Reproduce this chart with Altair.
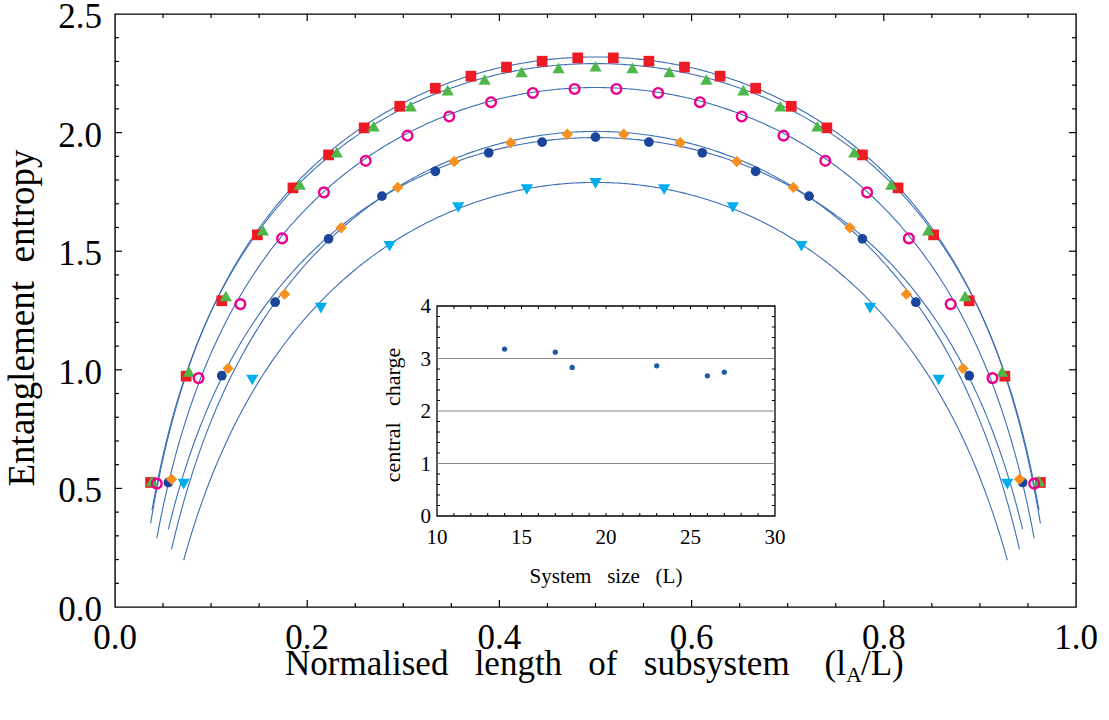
import altair as alt
import numpy as np
import pandas as pd

# ---- entanglement entropy S(l_A) for each chain length L, l_A = 1 .. L-1 ----
S_L27 = [0.525, 0.973, 1.291, 1.569, 1.767, 1.906, 2.020, 2.111, 2.187, 2.238, 2.276, 2.301, 2.315,
         2.315, 2.301, 2.276, 2.238, 2.187, 2.111, 2.020, 1.906, 1.767, 1.569, 1.291, 0.973, 0.525]
S_L26 = [0.531, 0.993, 1.311, 1.589, 1.781, 1.917, 2.027, 2.111, 2.179, 2.224, 2.256, 2.273, 2.280,
         2.273, 2.256, 2.224, 2.179, 2.111, 2.027, 1.917, 1.781, 1.589, 1.311, 0.993, 0.531]
S_L23 = [0.520, 0.965, 1.277, 1.554, 1.748, 1.881, 1.987, 2.068, 2.128, 2.167, 2.184,
         2.184, 2.167, 2.128, 2.068, 1.987, 1.881, 1.748, 1.554, 1.277, 0.965, 0.520]
S_L18 = [0.525, 0.975, 1.285, 1.552, 1.732, 1.837, 1.915, 1.960, 1.981,
         1.960, 1.915, 1.837, 1.732, 1.552, 1.285, 0.975, 0.525]
S_L17 = [0.539, 1.006, 1.319, 1.599, 1.769, 1.878, 1.957, 1.993,
         1.993, 1.957, 1.878, 1.769, 1.599, 1.319, 1.006, 0.539]
S_L14 = [0.518, 0.957, 1.260, 1.521, 1.684, 1.760, 1.786,
         1.760, 1.684, 1.521, 1.260, 0.957, 0.518]

# ---- CFT fit S = (c/3) ln[(L/pi) sin(pi l/L)] + const, one fit per L ----
system_size = [14, 17, 18, 23, 26, 27]
central_charge = [3.18, 3.12, 2.83, 2.86, 2.67, 2.74]
half_chain_fit = [1.790, 2.005, 1.979, 2.190, 2.291, 2.319]   # fitted S at l_A = L/2

# axis tick labels
x_tick_labels = [0.0, 0.2, 0.4, 0.6, 0.8, 1.0]
y_tick_labels = [0.0, 0.5, 1.0, 1.5, 2.0, 2.5]
inset_x_labels = [10, 15, 20, 25, 30]
inset_y_labels = [0, 1, 2, 3, 4]

entropy = {27: S_L27, 26: S_L26, 23: S_L23, 18: S_L18, 17: S_L17, 14: S_L14}

# marker per chain length: (shape, colour, filled, size)
marker = {
    27: ("square", "#ED1C24", True, 115),
    26: ("triangle-up", "#4DB848", True, 150),
    18: ("circle", "#1B459B", True, 95),
    17: ("diamond", "#F7901E", True, 130),
    23: ("circle", "#EC008C", False, 95),
    14: ("triangle-down", "#00AEEF", True, 150),
}
draw_order = [27, 26, 18, 17, 23, 14]

FONT = "Liberation Serif"
FIT_BLUE = "#3C6EB4"
W, H = 961, 593

pts = pd.DataFrame([
    {"L": L, "x": (i + 1) / L, "S": s}
    for L, vals in entropy.items() for i, s in enumerate(vals)
])

curve_rows = []
for L, c, s_half in zip(system_size, central_charge, half_chain_fit):
    xs = np.linspace(1 / L, 1 - 1 / L, 400)
    for xv, sv in zip(xs, s_half + c / 3 * np.log(np.sin(np.pi * xs))):
        curve_rows.append({"L": L, "x": xv, "S": sv})
curves_df = pd.DataFrame(curve_rows)

X = alt.Scale(domain=[0, 1], nice=False, zero=False)
Y = alt.Scale(domain=[0, 2.5], nice=False, zero=False)

fits = alt.Chart(curves_df).mark_line(color=FIT_BLUE, strokeWidth=1.1).encode(
    x=alt.X("x:Q", scale=X, axis=None),
    y=alt.Y("S:Q", scale=Y, axis=None),
    detail="L:N",
)

point_layers = []
for L in draw_order:
    shape, col, filled, size = marker[L]
    df = pts[pts.L == L]
    if filled:
        mk = alt.Chart(df).mark_point(shape=shape, filled=True, color=col, size=size,
                                      opacity=1, strokeWidth=0)
    else:
        mk = alt.Chart(df).mark_point(shape=shape, filled=False, color=col, size=size,
                                      opacity=1, strokeWidth=2.4)
    point_layers.append(mk.encode(x=alt.X("x:Q", scale=X, axis=None),
                                  y=alt.Y("S:Q", scale=Y, axis=None)))

# inward tick marks on all four sides of the main frame
x_minor = pd.DataFrame({"v": [0.05, 0.1, 0.15, 0.25, 0.3, 0.35, 0.45, 0.5, 0.55, 0.65, 0.7, 0.75,
                              0.85, 0.9, 0.95]})
x_major = pd.DataFrame({"v": [0.2, 0.4, 0.6, 0.8]})
y_minor = pd.DataFrame({"v": [0.1, 0.2, 0.3, 0.4, 0.6, 0.7, 0.8, 0.9, 1.1, 1.2, 1.3, 1.4, 1.6,
                              1.7, 1.8, 1.9, 2.1, 2.2, 2.3, 2.4]})
y_major = pd.DataFrame({"v": [0.5, 1.0, 1.5, 2.0]})

tick_layers = []
for df, ln in ((x_minor, 4), (x_major, 7)):
    for y0, y1 in ((H, H - ln), (0, ln)):
        tick_layers.append(alt.Chart(df).mark_rule(color="black", strokeWidth=1.2).encode(
            x=alt.X("v:Q", scale=X, axis=None), y=alt.value(y0), y2=alt.value(y1)))
for df, ln in ((y_minor, 4), (y_major, 7)):
    for x0, x1 in ((0, ln), (W, W - ln)):
        tick_layers.append(alt.Chart(df).mark_rule(color="black", strokeWidth=1.2).encode(
            y=alt.Y("v:Q", scale=Y, axis=None), x=alt.value(x0), x2=alt.value(x1)))

# tick labels, placed through the data scales
xl = pd.DataFrame({"v": x_tick_labels, "t": [f"{v:.1f}" for v in x_tick_labels]})
yl = pd.DataFrame({"v": y_tick_labels, "t": [f"{v:.1f}" for v in y_tick_labels]})
x_labels = alt.Chart(xl).mark_text(font=FONT, fontSize=35, align="center", baseline="alphabetic",
                                   color="black").encode(
    x=alt.X("v:Q", scale=X, axis=None), y=alt.value(H + 42), text="t:N")
y_labels = alt.Chart(yl).mark_text(font=FONT, fontSize=35, align="right", baseline="alphabetic",
                                   dy=14, color="black").encode(
    y=alt.Y("v:Q", scale=Y, axis=None), x=alt.value(-13), text="t:N")

one = pd.DataFrame({"k": [0]})
SP = "\u00a0\u00a0\u00a0"
x_title_main = alt.Chart(one).mark_text(
    text=f"Normalised{SP}length{SP}of{SP}subsystem{SP}\u00a0(l", font=FONT, fontSize=35,
    align="right", baseline="alphabetic", color="black"
).encode(x=alt.value(731), y=alt.value(661))
x_title_sub = alt.Chart(one).mark_text(
    text="A", font=FONT, fontSize=22, align="left", baseline="alphabetic", color="black"
).encode(x=alt.value(731), y=alt.value(668))
x_title_end = alt.Chart(one).mark_text(
    text="/L)", font=FONT, fontSize=35, align="left", baseline="alphabetic", color="black"
).encode(x=alt.value(746), y=alt.value(661))
y_title = alt.Chart(one).mark_text(
    text="Entanglement\u00a0\u00a0entropy", font=FONT, fontSize=37, angle=270,
    align="center", baseline="alphabetic", color="black"
).encode(x=alt.value(-81), y=alt.value(304))

main = alt.layer(fits, *point_layers, *tick_layers, x_labels, y_labels,
                 x_title_main, x_title_sub, x_title_end, y_title)

# ---- inset: central charge against system size ----
IX = alt.Scale(domain=[10, 30], range=[322, 660], nice=False, zero=False)
IY = alt.Scale(domain=[0, 4], range=[502, 292], nice=False, zero=False)

frame = pd.DataFrame({"x0": [10], "x1": [30], "y0": [0], "y1": [4]})
inset_box = alt.Chart(frame).mark_rect(fill="white", stroke="black", strokeWidth=1.3).encode(
    x=alt.X("x0:Q", scale=IX, axis=None), x2="x1:Q",
    y=alt.Y("y0:Q", scale=IY, axis=None), y2="y1:Q")

grid = pd.DataFrame({"v": [1, 2, 3], "a": [10, 10, 10], "b": [30, 30, 30]})
inset_grid = alt.Chart(grid).mark_rule(color="#8a8a8a", strokeWidth=1).encode(
    y=alt.Y("v:Q", scale=IY, axis=None), x=alt.X("a:Q", scale=IX, axis=None), x2="b:Q")

ix_ticks = pd.DataFrame({"v": list(range(11, 30)), "lo": 0, "hi": 4})
iy_ticks = pd.DataFrame({"v": [0.2, 0.4, 0.6, 0.8, 1.2, 1.4, 1.6, 1.8, 2.2, 2.4, 2.6, 2.8,
                               3.2, 3.4, 3.6, 3.8], "lo": 10, "hi": 30})
inset_ticks = [
    alt.Chart(ix_ticks).mark_rule(color="black", strokeWidth=1, y2Offset=-3).encode(
        x=alt.X("v:Q", scale=IX, axis=None), y=alt.Y("lo:Q", scale=IY, axis=None), y2="lo:Q"),
    alt.Chart(ix_ticks).mark_rule(color="black", strokeWidth=1, y2Offset=3).encode(
        x=alt.X("v:Q", scale=IX, axis=None), y=alt.Y("hi:Q", scale=IY, axis=None), y2="hi:Q"),
    alt.Chart(iy_ticks).mark_rule(color="black", strokeWidth=1, x2Offset=3).encode(
        y=alt.Y("v:Q", scale=IY, axis=None), x=alt.X("lo:Q", scale=IX, axis=None), x2="lo:Q"),
    alt.Chart(iy_ticks).mark_rule(color="black", strokeWidth=1, x2Offset=-3).encode(
        y=alt.Y("v:Q", scale=IY, axis=None), x=alt.X("hi:Q", scale=IX, axis=None), x2="hi:Q"),
]

cc = pd.DataFrame({"L": system_size, "c": central_charge})
inset_pts = alt.Chart(cc).mark_circle(size=28, color="#1F5AAA", opacity=1).encode(
    x=alt.X("L:Q", scale=IX, axis=None), y=alt.Y("c:Q", scale=IY, axis=None))

ix_lab = pd.DataFrame({"v": inset_x_labels, "at": 0})
iy_lab = pd.DataFrame({"v": inset_y_labels, "at": 10})
inset_xlab = alt.Chart(ix_lab).mark_text(font=FONT, fontSize=21, align="center",
                                         baseline="alphabetic", dy=28, color="black").encode(
    x=alt.X("v:Q", scale=IX, axis=None), y=alt.Y("at:Q", scale=IY, axis=None), text="v:N")
inset_ylab = alt.Chart(iy_lab).mark_text(font=FONT, fontSize=21, align="right",
                                         baseline="alphabetic", dx=-6, dy=7, color="black").encode(
    x=alt.X("at:Q", scale=IX, axis=None), y=alt.Y("v:Q", scale=IY, axis=None), text="v:N")

inset_xtitle = alt.Chart(one).mark_text(
    text=f"System{SP}size{SP}(L)", font=FONT, fontSize=21, align="center",
    baseline="alphabetic", color="black").encode(x=alt.value(491), y=alt.value(569))
inset_ytitle = alt.Chart(one).mark_text(
    text=f"central{SP}charge", font=FONT, fontSize=22, angle=270, align="center",
    baseline="alphabetic", color="black").encode(x=alt.value(285), y=alt.value(401))

inset = alt.layer(inset_box, inset_grid, *inset_ticks, inset_pts, inset_xlab, inset_ylab,
                  inset_xtitle, inset_ytitle)

chart = alt.layer(main, inset).resolve_scale(x="independent", y="independent").properties(
    width=W, height=H,
    padding={"left": 115, "top": 14, "right": 33, "bottom": 113},
    autosize=alt.AutoSizeParams(type="none"),
    background="white",
).configure_view(stroke="black", strokeWidth=1.4)

chart.save("out.html", embed_options={"renderer": "svg", "actions": False})
